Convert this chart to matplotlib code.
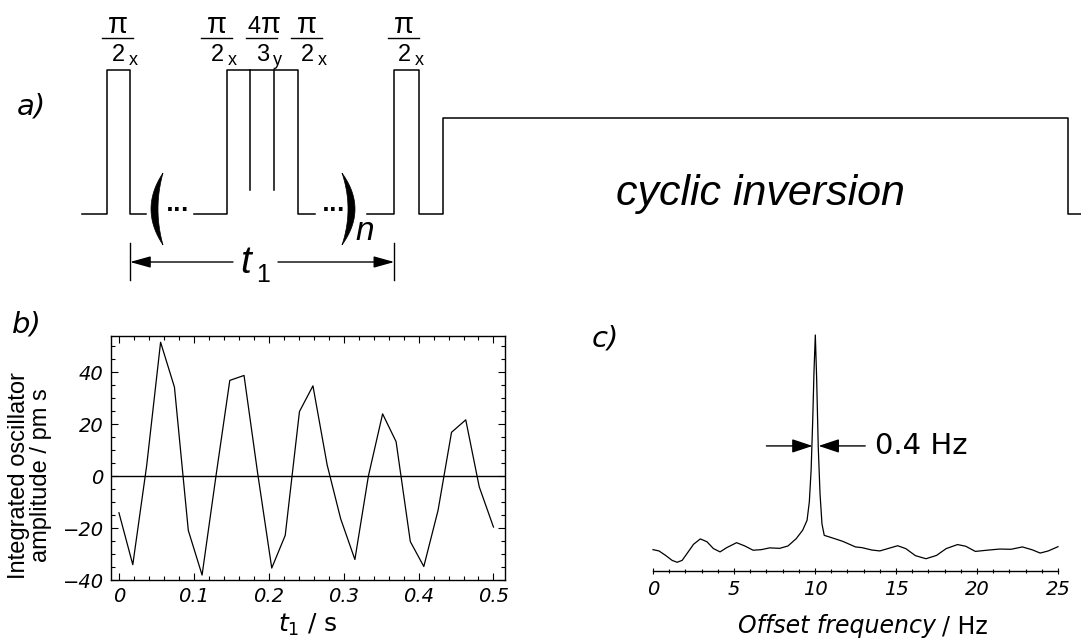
import numpy as np
import matplotlib.pyplot as plt
from matplotlib.ticker import MultipleLocator

plt.rcParams['mathtext.fontset'] = 'custom'
plt.rcParams['mathtext.rm'] = 'DejaVu Sans'
plt.rcParams['mathtext.it'] = 'DejaVu Sans:italic'

# ---- b) integrated oscillator amplitude vs t1 ----
t1_s = [0.000, 0.0185, 0.037, 0.0556, 0.0741, 0.0926, 0.111, 0.130, 0.148, 0.167,
        0.185, 0.204, 0.222, 0.241, 0.259, 0.278, 0.296, 0.315, 0.333, 0.352,
        0.370, 0.389, 0.407, 0.426, 0.444, 0.463, 0.481, 0.500]
amp_pms = [-14.1, -34.1, 4.0, 51.6, 34.3, -20.9, -38.1, 1.0, 36.9, 38.8,
           1.5, -35.4, -22.8, 24.9, 34.8, 4.3, -16.4, -32.1, 0.0, 24.0,
           13.3, -25.2, -34.8, -13.2, 16.9, 21.7, -4.1, -19.6]

# ---- c) spectrum (arbitrary units, peak = 100) ----
freq_hz = [0, 0.37, 0.78, 1.18, 1.49, 1.8, 2.1, 2.5, 2.92, 3.33, 3.73, 4.14, 4.55,
           5.16, 5.67, 6.18, 6.69, 7.2, 7.82, 8.33, 8.84, 9.24, 9.51, 9.65, 9.76,
           9.86, 9.94, 10.02, 10.1, 10.2, 10.31, 10.43, 10.57, 10.9, 11.7, 12.5,
           12.9, 13.5, 14.0, 14.5, 15.1, 15.6, 16.2, 16.85, 17.5, 18.1, 18.8, 19.3,
           19.9, 20.6, 21.4, 22.1, 22.8, 23.4, 23.9, 24.4, 25.0]
spec = [9.05, 8.5, 6.6, 4.5, 3.7, 4.5, 7.4, 11.3, 13.6, 12.4, 9.5, 8.1, 9.9,
        12.0, 10.6, 8.8, 9.05, 9.8, 9.6, 10.6, 13.7, 17.3, 21.5, 29.3, 42.7,
        64, 85, 100, 82, 52.6, 32.8, 20, 15.1, 14.4, 12.6, 10.2,
        9.9, 8.9, 8.5, 9.5, 10.7, 9.5, 6.5, 5.2, 6.6, 9.5, 11.2, 10.5,
        8.3, 8.8, 9.3, 9.2, 10.2, 9.0, 7.6, 8.5, 10.3]
fwhm_left, fwhm_right, fwhm_level = 9.85, 10.22, 53

# ---- a) pulse sequence (sketch units = pixels) ----
base, top, cyc = 214, 70, 118
seq_parts = [
    [(82, base), (106.7, base), (106.7, top), (130, top), (130, base), (146, base)],
    [(194, base), (227, base), (227, top), (298.3, top), (298.3, base), (315, base)],
    [(367, base), (394.3, base), (394.3, top), (418.5, top), (418.5, base),
     (442.5, base), (442.5, cyc), (1068, cyc), (1068, base), (1081, base)],
]
dividers = [250, 274.3]
pulse_labels = [(118, 'π', '2', 'x'), (216.7, 'π', '2', 'x'), (261.7, '4π', '3', 'y'),
                (306.7, 'π', '2', 'x'), (404, 'π', '2', 'x')]

fig = plt.figure(figsize=(10.81, 6.4), dpi=100)
ax0 = fig.add_axes([0, 0, 1, 1])
ax0.set_xlim(0, 1081)
ax0.set_ylim(640, 0)
ax0.axis('off')

for part in seq_parts:
    xs, ys = zip(*part)
    ax0.plot(xs, ys, color='black', lw=1.1)
for d in dividers:
    ax0.plot([d, d], [top, 190], color='black', lw=1.1)

seq_font = 'Liberation Sans'
for cx, num, den, sub in pulse_labels:
    if num == 'π':
        ax0.text(cx, 33, 'π', ha='center', va='baseline', fontsize=21, family=seq_font)
    else:
        ax0.text(cx - 1, 33, num[0], ha='right', va='baseline', fontsize=17, family=seq_font)
        ax0.text(cx - 1, 33, num[1], ha='left', va='baseline', fontsize=21, family=seq_font)
    ax0.plot([cx - 16, cx + 15], [37.7, 37.7], color='black', lw=1)
    ax0.text(cx + 0.5, 61, den, ha='center', va='baseline', fontsize=17, family=seq_font)
    ax0.text(cx + 11, 65, sub, ha='left', va='baseline', fontsize=13, family=seq_font)

# brackets drawn as tapered crescents
def bracket(x_end, bulge_out, bulge_in, yc=209, half=36):
    yy = np.linspace(-half, half, 40)
    outer = x_end + bulge_out * (1 - (yy / half) ** 2)
    inner = x_end + bulge_in * (1 - (yy / half) ** 2)
    ax0.fill(np.r_[outer, inner[::-1]], np.r_[yc + yy, yc + yy[::-1]],
             color='black', lw=0.5)

bracket(163, -12, -5)
bracket(342, 13, 6)
ax0.text(178, 211, '...', ha='center', va='baseline', fontsize=15,
         fontweight='bold', family='DejaVu Sans')
ax0.text(334, 211, '...', ha='center', va='baseline', fontsize=15,
         fontweight='bold', family='DejaVu Sans')
ax0.text(355, 240, 'n', ha='left', va='baseline', fontsize=24, style='italic',
         family=seq_font)

# t1 span
for xv in (130, 394.3):
    ax0.plot([xv, xv], [243, 280], color='black', lw=1)
ax0.annotate('', xy=(130, 262), xytext=(233, 262),
             arrowprops=dict(arrowstyle='-|>,head_length=0.9,head_width=0.25',
                             color='black', lw=1, mutation_scale=14,
                             shrinkA=0, shrinkB=0))
ax0.annotate('', xy=(394.3, 262), xytext=(278, 262),
             arrowprops=dict(arrowstyle='-|>,head_length=0.9,head_width=0.25',
                             color='black', lw=1, mutation_scale=14,
                             shrinkA=0, shrinkB=0))
ax0.text(246, 273, 't', ha='center', va='baseline', fontsize=28, style='italic',
         family=seq_font)
ax0.text(256, 282, '1', ha='left', va='baseline', fontsize=18, family=seq_font)

ax0.text(760, 205, 'cyclic inversion', ha='center', va='baseline', fontsize=31,
         style='italic', family=seq_font)

ax0.text(17, 115, 'a)', fontsize=21, style='italic', family='DejaVu Sans', va='baseline')
ax0.text(12, 332, 'b)', fontsize=21, style='italic', family='DejaVu Sans', va='baseline')
ax0.text(592, 346, 'c)', fontsize=21, style='italic', family='DejaVu Sans', va='baseline')

# ---- panel b ----
axb = fig.add_axes([110.7 / 1081, 1 - 580 / 640, 394.3 / 1081, 244 / 640])
axb.plot(t1_s, amp_pms, color='black', lw=0.9)
axb.axhline(0, color='black', lw=1)
axb.set_xlim(-0.011, 0.5154)
axb.set_ylim(-40, 54)
axb.xaxis.set_major_locator(MultipleLocator(0.1))
axb.xaxis.set_minor_locator(MultipleLocator(0.02))
axb.yaxis.set_major_locator(MultipleLocator(20))
axb.yaxis.set_minor_locator(MultipleLocator(5))
axb.tick_params(which='both', direction='in', top=True, right=True, width=0.8,
                labelsize=14, pad=5)
axb.tick_params(which='major', length=5)
axb.tick_params(which='minor', length=3)
axb.set_xticks([0, 0.1, 0.2, 0.3, 0.4, 0.5])
axb.set_xticklabels(['0', '0.1', '0.2', '0.3', '0.4', '0.5'])
for lab in axb.get_xticklabels() + axb.get_yticklabels():
    lab.set_style('italic')
for s in axb.spines.values():
    s.set_linewidth(1)
axb.set_xlabel(r'$t_1$ / s', fontsize=18, family='DejaVu Sans', labelpad=4)
axb.set_ylabel('Integrated oscillator\namplitude / pm s', fontsize=17,
               family=seq_font, linespacing=0.95)
axb.yaxis.set_label_coords(-0.15, 0.43)

# ---- panel c ----
axc = fig.add_axes([653 / 1081, 1 - 571 / 640, 405 / 1081, 236 / 640])
axc.plot(freq_hz, spec, color='black', lw=0.9, clip_on=False)
axc.set_xlim(0, 25)
axc.set_ylim(0, 100)
for side in ('left', 'right', 'top'):
    axc.spines[side].set_visible(False)
axc.spines['bottom'].set_linewidth(1)
axc.set_yticks([])
axc.xaxis.set_major_locator(MultipleLocator(5))
axc.xaxis.set_minor_locator(MultipleLocator(1))
axc.tick_params(which='both', direction='inout', width=0.8, labelsize=14, pad=4)
axc.tick_params(which='major', length=5)
axc.tick_params(which='minor', length=3)
for lab in axc.get_xticklabels():
    lab.set_style('italic')
axc.patch.set_alpha(0)

axc.annotate('', xy=(fwhm_left, fwhm_level), xytext=(7.0, fwhm_level),
             arrowprops=dict(arrowstyle='-|>,head_length=0.9,head_width=0.3',
                             color='black', lw=1, mutation_scale=14,
                             shrinkA=0, shrinkB=0))
axc.annotate('', xy=(fwhm_right, fwhm_level), xytext=(13.1, fwhm_level),
             arrowprops=dict(arrowstyle='-|>,head_length=0.9,head_width=0.3',
                             color='black', lw=1, mutation_scale=14,
                             shrinkA=0, shrinkB=0))
axc.text(13.7, fwhm_level, '0.4 Hz', ha='left', va='center', fontsize=21,
         family='DejaVu Sans')

ax0.text(936, 626, 'Offset frequency', ha='right', va='center', fontsize=17,
         style='italic', family='DejaVu Sans')
ax0.text(942, 626, '/ Hz', ha='left', va='center', fontsize=17, family='DejaVu Sans')

fig.savefig('out.png', dpi=100)
